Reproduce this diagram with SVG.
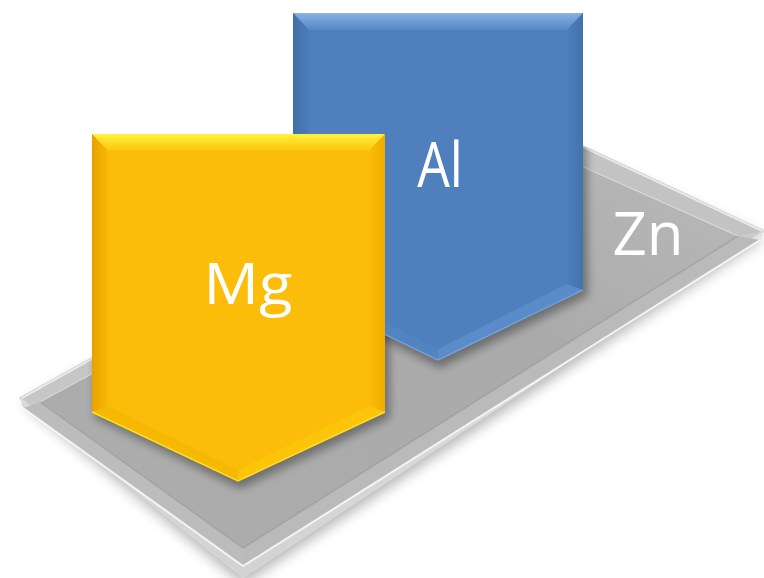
<svg xmlns="http://www.w3.org/2000/svg" width="764" height="578" viewBox="0 0 764 578">
  <style>
    .label { font-family: "Open Sans", "Liberation Sans", sans-serif; fill: #ffffff; text-anchor: middle; }
    .edgeHi { fill: none; stroke: #ffffff; stroke-linecap: round; }
    .edgeLo { fill: none; stroke: #8f8f8f; stroke-linecap: round; }
  </style>
  <defs>
    <filter id="blurL" x="-20%" y="-20%" width="140%" height="140%"><feGaussianBlur stdDeviation="7"/></filter>
    <filter id="blurS" x="-20%" y="-20%" width="140%" height="140%"><feGaussianBlur stdDeviation="4"/></filter>
    <clipPath id="plateClip"><polygon points="20,398 523,118 764,231 243,577"/></clipPath>

    <!-- plate -->
    <linearGradient id="plateFace" x1="0" y1="1" x2="1" y2="0">
      <stop offset="0" stop-color="#adadad"/>
      <stop offset="0.6" stop-color="#aaaaaa"/>
      <stop offset="1" stop-color="#bababa"/>
    </linearGradient>
    <linearGradient id="plateRim" x1="0" y1="0" x2="0" y2="1">
      <stop offset="0" stop-color="#cfcfcf"/>
      <stop offset="1" stop-color="#c4c4c4"/>
    </linearGradient>
    <linearGradient id="plateSide" x1="0" y1="0" x2="0" y2="1">
      <stop offset="0" stop-color="#e4e4e4"/>
      <stop offset="1" stop-color="#d2d2d2"/>
    </linearGradient>

    <!-- yellow block -->
    <linearGradient id="yTop" x1="0" y1="0" x2="0" y2="1">
      <stop offset="0" stop-color="#fff23c"/>
      <stop offset="1" stop-color="#fcc40c"/>
    </linearGradient>
    <linearGradient id="yLeft" x1="0" y1="0" x2="1" y2="0">
      <stop offset="0" stop-color="#e9a000"/>
      <stop offset="1" stop-color="#f8b906"/>
    </linearGradient>
    <linearGradient id="yRight" x1="1" y1="0" x2="0" y2="0">
      <stop offset="0" stop-color="#f0ac00"/>
      <stop offset="1" stop-color="#fabd08"/>
    </linearGradient>

    <!-- blue block -->
    <linearGradient id="bTop" x1="0" y1="0" x2="0" y2="1">
      <stop offset="0" stop-color="#8ab2e2"/>
      <stop offset="1" stop-color="#5586c3"/>
    </linearGradient>
    <linearGradient id="bLeft" x1="0" y1="0" x2="1" y2="0">
      <stop offset="0" stop-color="#416fa9"/>
      <stop offset="1" stop-color="#4c7cb9"/>
    </linearGradient>
    <linearGradient id="bRight" x1="1" y1="0" x2="0" y2="0">
      <stop offset="0" stop-color="#4472ad"/>
      <stop offset="1" stop-color="#4d7eba"/>
    </linearGradient>
  </defs>

  <rect width="764" height="578" fill="#ffffff"/>

  <!-- Zn: the base plate -->
  <g id="zn">
    <polygon points="24,404 523,130 764,238 243,584" fill="#000000" opacity="0.3" filter="url(#blurL)"/>
    <polygon points="20,398 523,118 764,231 243,577" fill="url(#plateRim)" stroke="#d8d8d8" stroke-width="2" stroke-linejoin="round"/>
    <!-- front side faces -->
    <polygon points="20,398 243,577 764,231 760,240 243,566 23,408" fill="url(#plateSide)"/>
    <!-- front bevels -->
    <polygon points="40,402 243,548 243,566 23,408" fill="#bcbcbc"/>
    <polygon points="243,548 738,236 760,240 243,566" fill="#bababa"/>
    <!-- back bevels -->
    <polygon points="20,398 523,118 523,140 40,402" fill="#c6c6c6"/>
    <polygon points="523,118 764,231 738,236 523,140" fill="#c3c3c3"/>
    <!-- top face -->
    <polygon points="40,402 523,140 738,236 243,548" fill="url(#plateFace)"/>
    <!-- edge lines -->
    <polyline class="edgeLo" points="40,402 243,548 738,236" stroke-width="1.5" opacity="0.45"/>
    <polyline class="edgeHi" points="23,408 243,566 760,240" stroke-width="2" opacity="0.8"/>
    <polyline class="edgeHi" points="22,398 523,119 762,231" stroke-width="1.5" opacity="0.7"/>
    <polyline class="edgeHi" points="40,402 523,140 738,236" stroke-width="1" opacity="0.5"/>
    <text class="label" x="648" y="255" font-size="60">Zn</text>
  </g>

  <!-- block shadows cast on the plate -->
  <g clip-path="url(#plateClip)">
    <polygon points="296,20 586,20 588,296 440,368 296,296" fill="#000000" opacity="0.35" filter="url(#blurS)"/>
    <polygon points="95,140 388,140 390,418 240,489 95,418" fill="#000000" opacity="0.35" filter="url(#blurS)"/>
  </g>

  <!-- Al: blue block -->
  <g id="al">
    <polygon points="293,13 583,13 583,290 438,360 293,290" fill="#4f80bd"/>
    <polygon points="293,13 583,13 567,30 309,30" fill="url(#bTop)"/>
    <polygon points="293,13 309,30 309,284 293,290" fill="url(#bLeft)"/>
    <polygon points="583,13 583,290 567,284 567,30" fill="url(#bRight)"/>
    <polygon points="293,290 309,284 438,349 438,360" fill="#5284c2"/>
    <polygon points="583,290 438,360 438,349 567,284" fill="#5a8cca"/>
    <polyline points="293,290 438,360 583,290" fill="none" stroke="#78a6e0" stroke-width="1.2"/>
    <text class="label" font-size="63" transform="translate(440,187) scale(0.82,1)">Al</text>
  </g>

  <!-- Mg: yellow block -->
  <g id="mg">
    <polygon points="92,134 385,134 385,412 238,481 92,412" fill="#fbbd0a"/>
    <polygon points="92,134 385,134 369,151 108,151" fill="url(#yTop)"/>
    <polygon points="92,134 108,151 108,406 92,412" fill="url(#yLeft)"/>
    <polygon points="385,134 385,412 369,406 369,151" fill="url(#yRight)"/>
    <polygon points="92,412 108,406 238,470 238,481" fill="#f6b800"/>
    <polygon points="385,412 238,481 238,470 369,406" fill="#fcc40a"/>
    <polyline points="92,412 238,481 385,412" fill="none" stroke="#ffdf20" stroke-width="1.5"/>
    <text class="label" font-size="56" transform="translate(248,304) scale(1.1,1)">Mg</text>
  </g>
</svg>
